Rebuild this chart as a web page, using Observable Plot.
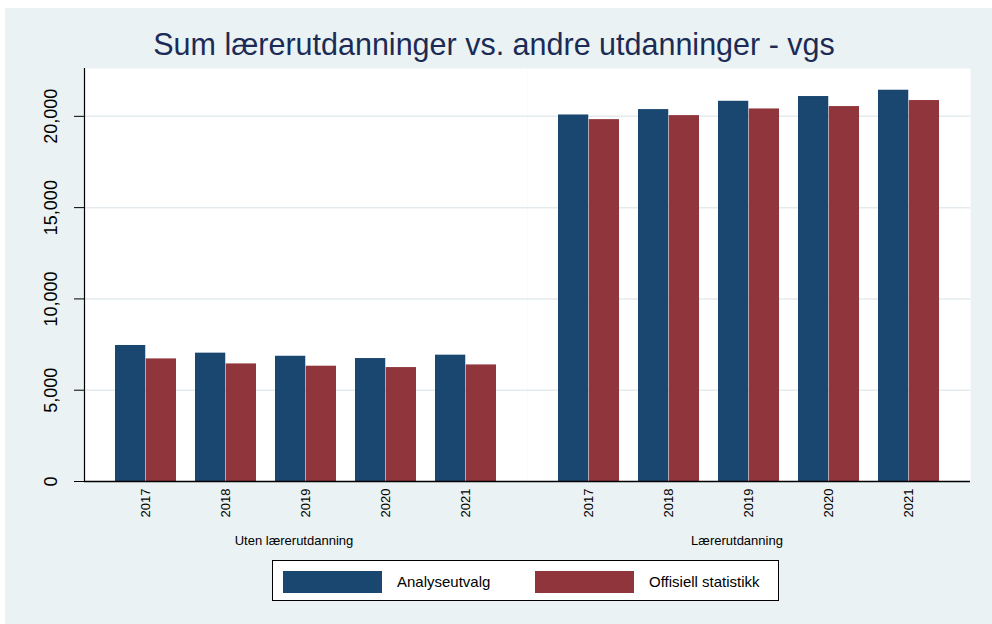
<!DOCTYPE html>
<html><head><meta charset="utf-8">
<script src="https://cdn.jsdelivr.net/npm/d3@7"></script>
<script src="https://cdn.jsdelivr.net/npm/@observablehq/plot@0.6"></script>
<style>
body{margin:0;background:#fff;font-family:"Liberation Sans",Arial,sans-serif;}
#page{position:relative;width:992px;height:624px;overflow:hidden;}
#bg{position:absolute;left:5px;top:8px;right:0;bottom:0;background:#eaf2f3;}
#title{position:absolute;left:0;width:988px;top:27px;text-align:center;font-size:30.5px;line-height:34px;color:#1c2b56;white-space:nowrap;}
#chart{position:absolute;left:0;top:60px;}
#legend{position:absolute;left:272px;top:560px;width:507px;height:41px;box-sizing:border-box;border:1px solid #000;background:#fff;}
.sw{position:absolute;top:10px;width:99px;height:22px;}
.lt{position:absolute;top:10px;height:22px;line-height:22px;font-size:15px;color:#000;white-space:nowrap;}
</style></head>
<body>
<div id="page">
  <div id="bg"></div>
  <div id="title">Sum lærerutdanninger vs. andre utdanninger - vgs</div>
  <div id="chart"></div>
  <div id="legend"></div>
</div>
<script>
const groups = ["Uten lærerutdanning", "Lærerutdanning"];
const years = ["2017", "2018", "2019", "2020", "2021"];
const series = ["Analyseutvalg", "Offisiell statistikk"];
const colors = ["#1a476f", "#90353b"];
const utenAnalyse = [7450, 7030, 6860, 6735, 6920];
const utenOffisiell = [6715, 6440, 6315, 6240, 6385];
const larerAnalyse = [20075, 20370, 20825, 21085, 21430];
const larerOffisiell = [19820, 20040, 20405, 20535, 20865];
const yTicks = [0, 5000, 10000, 15000, 20000];
const yMax = 22620;

const table = [
  [groups[0], series[0], utenAnalyse],
  [groups[0], series[1], utenOffisiell],
  [groups[1], series[0], larerAnalyse],
  [groups[1], series[1], larerOffisiell]
];
const rows = table.flatMap(([group, s, vals]) => vals.map((value, i) => ({group, series: s, year: years[i], value})));

const W = 992, H = 495, mL = 83, mR = 22, mT = 8, mB = 74;
const pIn = 0.236, pOut = 0.373;
const facetW = (W - mL - mR) / groups.length;
const step = facetW / (years.length - pIn + 2 * pOut);
const half = step * (1 - pIn) / 2;
const font = "'Liberation Sans', Arial, sans-serif";

const chart = Plot.plot({
  width: W, height: H,
  marginLeft: mL, marginRight: mR, marginTop: mT, marginBottom: mB,
  style: {background: "transparent", fontFamily: font, color: "#000", overflow: "visible"},
  fx: {domain: groups, padding: 0, label: null},
  x: {domain: years, paddingInner: pIn, paddingOuter: pOut, label: null},
  y: {domain: [0, yMax], label: null},
  marks: [
    Plot.frame({fill: "white", stroke: null}),
    Plot.gridY(yTicks.slice(1), {stroke: "#e3ebee", strokeOpacity: 1, strokeWidth: 1.5}),
    Plot.barY(rows.filter(d => d.series === series[0]), {fx: "group", x: "year", y: "value", fill: colors[0], insetRight: half}),
    Plot.barY(rows.filter(d => d.series === series[1]), {fx: "group", x: "year", y: "value", fill: colors[1], insetLeft: half}),
    Plot.ruleY([0], {stroke: "#000", strokeWidth: 1.5}),
    Plot.frame({anchor: "left", facetAnchor: "left", stroke: "#000", strokeWidth: 1.2}),
    Plot.axisY(yTicks, {tickSize: 10, tickPadding: 18, tickRotate: -90, textAnchor: "middle", lineAnchor: "bottom",
      fontSize: 18, tickFormat: d3.format(","), stroke: "#000", label: null}),
    Plot.axisX({tickSize: 0, tickPadding: 7, tickRotate: -90, textAnchor: "end", lineAnchor: "middle", fontSize: 13, label: null}),
    Plot.axisFx({anchor: "bottom", tickSize: 0, tickPadding: 54, fontSize: 13, dx: -12, label: null})
  ]
});
document.getElementById("chart").appendChild(chart);

const legend = document.getElementById("legend");
series.forEach((s, i) => {
  const sw = document.createElement("div");
  sw.className = "sw";
  sw.style.left = (10 + i * 252) + "px";
  sw.style.background = colors[i];
  legend.appendChild(sw);
  const t = document.createElement("div");
  t.className = "lt";
  t.style.left = (124 + i * 252) + "px";
  t.textContent = s;
  legend.appendChild(t);
});
</script>
</body></html>
